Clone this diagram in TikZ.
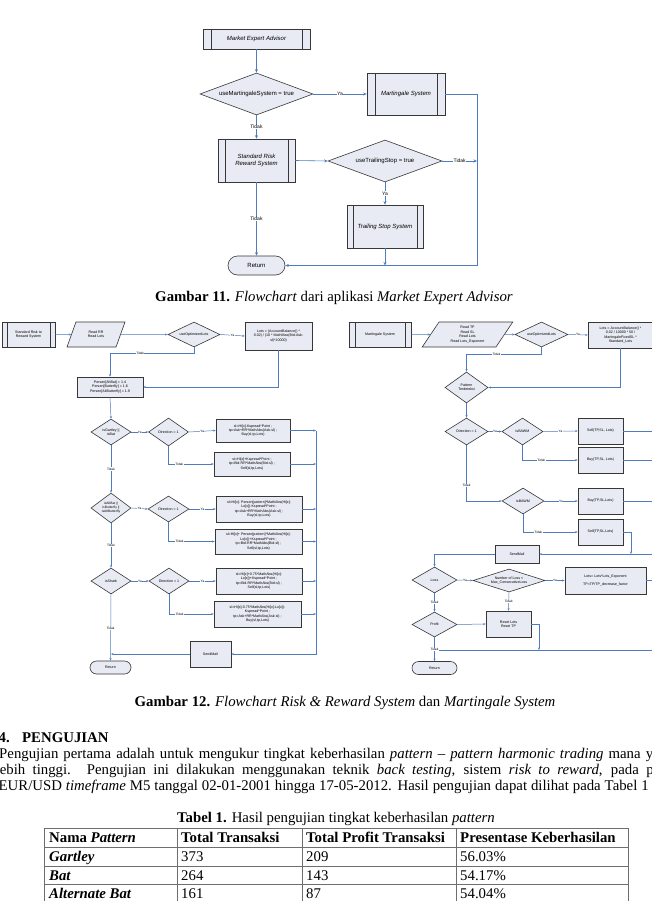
\documentclass[tikz,border=0pt]{standalone}
\usepackage{fontspec}
\setmainfont{Liberation Serif}
\newfontfamily\arialf{Liberation Sans}
\usetikzlibrary{shapes.geometric,shapes.misc,arrows.meta,calc}
\definecolor{lnblue}{RGB}{79,124,190}
\definecolor{bfill}{RGB}{232,235,243}
\definecolor{bdraw}{RGB}{55,55,55}
\definecolor{tblgray}{RGB}{110,110,110}
\newcommand{\bodyfont}{\fontsize{14.8}{17}\selectfont}
\begin{document}
\begin{tikzpicture}[x=1pt,y=-1pt,
  fA/.style={font=\arialf\fontsize{6}{7.2}\selectfont},
  fAi/.style={font=\arialf\itshape\fontsize{6}{7.2}\selectfont},
  fB/.style={font=\arialf\fontsize{3.6}{4.4}\selectfont},
  proc/.style={rectangle,draw=bdraw,fill=bfill,line width=0.6pt,inner sep=0pt,align=center},
  predef/.style={proc,path picture={\draw[draw=bdraw,line width=0.6pt]
     ([xshift=#1]path picture bounding box.north west) -- ([xshift=#1]path picture bounding box.south west)
     ([xshift=-#1]path picture bounding box.north east) -- ([xshift=-#1]path picture bounding box.south east);}},
  predef/.default=7pt,
  dia/.style={shape=diamond,draw=bdraw,fill=bfill,line width=0.6pt,inner sep=0pt,align=center},
  term/.style={shape=rounded rectangle,draw=bdraw,fill=bfill,line width=0.6pt,inner sep=0pt},
  para/.style={shape=trapezium,trapezium stretches=true,draw=bdraw,fill=bfill,line width=0.6pt,inner sep=0pt,align=center},
  conn/.style={draw=lnblue,line width=0.6pt},
  arr/.style={conn,-{Stealth[length=3.5pt,width=3pt]}},
  conns/.style={draw=lnblue,line width=0.5pt},
  arrs/.style={conns,-{Stealth[length=2.5pt,width=2pt]}},
  lbl/.style={fill=white,inner sep=0.6pt,font=\arialf\fontsize{5}{6}\selectfont},
  lbls/.style={fill=white,inner sep=0.4pt,font=\arialf\fontsize{3.2}{4}\selectfont},
  tbl/.style={draw=tblgray,line width=0.8pt},
  txt/.style={font=\bodyfont,inner sep=0}
]
\useasboundingbox (0,0) rectangle (652,901);
\clip (0,0) rectangle (652,901);
\fill[white] (0,0) rectangle (652,901);

% ================= Figure 11 =================
\node[predef=8pt,fAi,minimum width=107,minimum height=20] (mea) at (256.5,39) {Market Expert Advisor};
\node[dia,fA,minimum width=113,minimum height=42,aspect=2.7] (dMart) at (256.5,94) {useMartingaleSystem = true};
\node[predef=8pt,fAi,minimum width=78,minimum height=42] (mart) at (406,94) {Martingale System};
\node[predef=7pt,fAi,minimum width=77,minimum height=43] (std) at (256.5,160.5) {Standard Risk\\Reward System};
\node[dia,fA,minimum width=114,minimum height=42,aspect=2.7] (dTrail) at (385,161) {useTrailingStop = true};
\node[predef=6pt,fAi,minimum width=76,minimum height=43] (trail) at (385,226.5) {Trailing Stop System};
\node[term,fA,minimum width=57,minimum height=19] (ret1) at (256.5,265.5) {Return};
\coordinate (j1) at (477,161);
\coordinate (j2) at (385,265.5);

\draw[arr] (mea.south) -- (dMart.north);
\draw[arr] (dMart.east) -- node[lbl]{Ya} (mart.west);
\draw[arr] (mart.east) -- ++(32,0) |- (ret1.east);
\draw[arr] (dMart.south) -- node[lbl]{Tidak} (std.north);
\draw[arr] (std.east) -- (dTrail.west);
\draw[arr] (dTrail.east) -- node[lbl]{Tidak} (j1);
\draw[arr] (dTrail.south) -- node[lbl]{Ya} (trail.north);
\draw[arr] (trail.south) -- (j2);
\draw[arr] (std.south) -- node[lbl]{Tidak} (ret1.north);

\node[txt,anchor=base] (cap11) at (334,301)
  {\textbf{Gambar 11.} \textit{Flowchart} dari aplikasi \textit{Market Expert Advisor}};

% ================= Figure 12 left =================
\node[predef=5pt,fB,minimum width=53,minimum height=25] (srr) at (28.5,334.5) {Standard Risk to\\Reward System};
\node[para,fB,minimum width=58,minimum height=25,trapezium left angle=62.5,trapezium right angle=117.5] (rr) at (96,334.5) {Read RR\\Read Lots};
\node[dia,fB,minimum width=52,minimum height=25,aspect=2.08] (dOpt) at (194,334.5) {useOptimizedLots};
\node[proc,fB,minimum width=67,minimum height=28] (lotsL) at (278.5,336) {Lots = (AccountBalance() *\\0.02) / (10 * MathMax(Bid-Ask-\\sl)*10000)};
\node[proc,fB,minimum width=66,minimum height=20] (persen) at (110,387) {Persen[AltBat] = 1.4\\Persen[Butterfly] = 1.6\\Persen[AltButterfly] = 1.9};

\node[dia,fB,minimum width=40,minimum height=26,aspect=1.54] (d1) at (111,432) {isGartley ||\\isBat};
\node[dia,fB,minimum width=40,minimum height=28,aspect=1.43] (dir1) at (168.5,432) {Direction = 1};
\node[proc,fB,minimum width=74,minimum height=23] (b1) at (253,430.5) {sl=Hi[x]-Kspread*Point ;\\tp=Ask+RR*MathAbs(Ask-sl) ;\\Buy(sl,tp,Lots)};
\node[proc,fB,minimum width=76,minimum height=24] (b2) at (252,464) {sl=Hi[x]+Kspread*Point ;\\tp=Bid-RR*MathAbs(Bid-sl) ;\\Sell(sl,tp,Lots)};

\node[dia,fB,minimum width=40,minimum height=30,aspect=1.33,font=\arialf\fontsize{3.3}{4}\selectfont] (d2) at (111,508) {isAltBat ||\\isButterfly ||\\isAltButterfly};
\node[dia,fB,minimum width=41,minimum height=26,aspect=1.58] (dir2) at (168.5,509) {Direction = 1};
\node[proc,fB,minimum width=86,minimum height=26] (b3) at (259,509) {sl=Hi[x]- Persen[pattern]*MathAbs(Hi[x]-\\Lo[x])-Kspread*Point ;\\tp=Ask+RR*MathAbs(Ask-sl) ;\\Buy(sl,tp,Lots)};
\node[proc,fB,minimum width=87,minimum height=25] (b4) at (258.5,541.5) {sl=Hi[x]+ Persen[pattern]*MathAbs(Hi[x]-\\Lo[x])+Kspread*Point ;\\tp=Bid-RR*MathAbs(Bid-sl) ;\\Sell(sl,tp,Lots)};

\node[dia,fB,minimum width=40,minimum height=26,aspect=1.54] (d3) at (111,581) {isShark};
\node[dia,fB,minimum width=40,minimum height=26,aspect=1.54] (dir3) at (169,581) {Direction = 1};
\node[proc,fB,minimum width=86,minimum height=26] (b5) at (259,581) {sl=Hi[x]+0.75*MathAbs(Hi[x]-\\Lo[x])+Kspread*Point ;\\tp=Bid-RR*MathAbs(Bid-sl) ;\\Sell(sl,tp,Lots)};
\node[proc,fB,minimum width=87,minimum height=26] (b6) at (257.5,614) {sl=Hi[x]-0.75*MathAbs(Hi[x]-Lo[x])-\\Kspread*Point ;\\tp=Ask+RR*MathAbs(Ask-sl) ;\\Buy(sl,tp,Lots)};

\node[proc,fB,minimum width=41,minimum height=26] (sendL) at (210.5,654) {SendMail};
\node[term,fB,minimum width=41,minimum height=13] (retL) at (110.5,667.5) {Return};

\coordinate (rl1) at (316,430.5);
\coordinate (rl2) at (316,464);
\coordinate (rl3) at (316,509);
\coordinate (rl4) at (316,541.5);
\coordinate (rl5) at (316,581);
\coordinate (rl6) at (316,614);
\coordinate (rlb) at (316,654);
\coordinate (ml) at (111,654);

\draw[arrs] (srr.east) -- ($(rr.bottom left corner)!0.5!(rr.top left corner)$);
\draw[arrs] ($(rr.bottom right corner)!0.5!(rr.top right corner)$) -- (dOpt.west);
\draw[arrs] (dOpt.east) -- node[lbls]{Ya} (lotsL.west);
\draw[arrs] (dOpt.south) -- ++(0,6) -| node[lbls,pos=0.32]{Tidak} (persen.north);
\draw[arrs] (lotsL.south) |- (persen.east);
\draw[arrs] (persen.south) -- (d1.north);
\draw[arrs] (d1.east) -- node[lbls]{Ya} (dir1.west);
\draw[arrs] (dir1.east) -- node[lbls]{Ya} (b1.west);
\draw[arrs] (dir1.south) |- node[lbls,pos=0.62]{Tidak} (b2.west);
\draw[arrs] (d1.south) -- node[lbls]{Tidak} (d2.north);
\draw[arrs] (d2.east) -- node[lbls]{Ya} (dir2.west);
\draw[arrs] (dir2.east) -- node[lbls]{Ya} (b3.west);
\draw[arrs] (dir2.south) |- node[lbls,pos=0.62]{Tidak} (b4.west);
\draw[arrs] (d2.south) -- node[lbls]{Tidak} (d3.north);
\draw[arrs] (d3.east) -- node[lbls]{Ya} (dir3.west);
\draw[arrs] (dir3.east) -- node[lbls]{Ya} (b5.west);
\draw[arrs] (dir3.south) |- node[lbls,pos=0.62]{Tidak} (b6.west);
\draw[arrs] (d3.south) -- node[lbls,pos=0.52]{Tidak} (retL.north);
\draw[arrs] (b1.east) -- (rl1);
\draw[arrs] (b2.east) -- (rl2);
\draw[arrs] (b3.east) -- (rl3);
\draw[arrs] (b4.east) -- (rl4);
\draw[arrs] (b5.east) -- (rl5);
\draw[arrs] (b6.east) -- (rl6);
\draw[arrs] (rl1) -- (rlb) -- (sendL.east);
\draw[arrs] (sendL.west) -- (ml);

% ================= Figure 12 right =================
\node[predef=6pt,fB,minimum width=62,minimum height=25] (mSys) at (380,334.5) {Martingale System};
\node[para,fB,minimum width=91,minimum height=25,trapezium left angle=59,trapezium right angle=121] (rTP) at (467.5,334.5) {Read TP\\Read SL\\Read Lots\\Read Lots\_Exponent};
\node[dia,fB,minimum width=53,minimum height=25,aspect=2.12] (dOpt2) at (541.5,334.5) {useOptimizedLots};
\node[proc,fB,minimum width=65,minimum height=26] (lotsR) at (620.5,335) {Lots = AccountBalance() *\\0.02 / 10000 * 50 /\\MartingaleFixedSL *\\Standard\_Lots};
\node[dia,fB,minimum width=43,minimum height=31,aspect=1.39] (pat) at (466.5,387.5) {Pattern\\Terdeteksi};
\node[dia,fB,minimum width=43,minimum height=27,aspect=1.59] (dirR) at (466.5,431.5) {Direction = 1};
\node[dia,fB,minimum width=41,minimum height=27,aspect=1.52] (isB1) at (522.5,431.5) {isBAWM};
\node[proc,fB,minimum width=45,minimum height=26] (sell1) at (600.5,431) {Sell(TP,SL, Lots)};
\node[proc,fB,minimum width=45,minimum height=26] (buy1) at (600.5,460) {Buy(TP,SL, Lots)};
\node[dia,fB,minimum width=42,minimum height=26,aspect=1.62] (isB2) at (523,501) {isBAWM};
\node[proc,fB,minimum width=45,minimum height=26] (buy2) at (600.5,501) {Buy(TP,SL,Lots)};
\node[proc,fB,minimum width=45,minimum height=26] (sell2) at (600.5,532) {Sell(TP,SL,Lots)};
\node[proc,fB,minimum width=44,minimum height=18] (sendR) at (517,554) {SendMail};
\node[dia,fB,minimum width=45,minimum height=26,aspect=1.73] (loss) at (434.5,580) {Loss};
\node[dia,fB,minimum width=72,minimum height=23,aspect=3.13] (nLoss) at (509,580.5) {Number of Loss <\\Max\_ConsecutiveLoss};
\node[proc,fB,minimum width=81,minimum height=27,font=\arialf\fontsize{3.6}{8}\selectfont] (lotsE) at (605.5,580.5) {Lots= Lots*Lots\_Exponent\\TP=TP/TP\_decrease\_factor};
\node[proc,fB,minimum width=45,minimum height=26] (reset) at (508.5,624) {Reset Lots\\Reset TP};
\node[dia,fB,minimum width=45,minimum height=25,aspect=1.8] (profit) at (434.5,624.5) {Profit};
\node[term,fB,minimum width=45,minimum height=13] (retR) at (434.5,668) {Return};

\coordinate (e1) at (656,431);
\coordinate (e2) at (656,460);
\coordinate (e3) at (656,501);
\coordinate (e4) at (631,554);
\coordinate (e5) at (656,554);
\coordinate (e6) at (656,580.5);
\coordinate (e7) at (539,650);
\coordinate (e8) at (656,650);
\coordinate (e9) at (434.5,650);

\draw[arrs] (mSys.east) -- ($(rTP.bottom left corner)!0.5!(rTP.top left corner)$);
\draw[arrs] ($(rTP.bottom right corner)!0.5!(rTP.top right corner)$) -- (dOpt2.west);
\draw[arrs] (dOpt2.east) -- node[lbls]{Ya} (lotsR.west);
\draw[arrs] (dOpt2.south) -- ++(0,7) -| node[lbls,pos=0.3]{Tidak} (pat.north);
\draw[arrs] (lotsR.south) |- (pat.east);
\draw[arrs] (pat.south) -- (dirR.north);
\draw[arrs] (dirR.east) -- node[lbls]{Ya} (isB1.west);
\draw[arrs] (isB1.east) -- node[lbls]{Ya} (sell1.west);
\draw[arrs] (isB1.south) |- node[lbls,pos=0.67]{Tidak} (buy1.west);
\draw[arrs] (dirR.south) |- node[lbls,pos=0.36]{Tidak} (isB2.west);
\draw[arrs] (isB2.east) -- node[lbls]{Ya} (buy2.west);
\draw[arrs] (isB2.south) |- node[lbls,pos=0.64]{Tidak} (sell2.west);
\draw[conns] (sell1.east) -- (e1);
\draw[conns] (buy1.east) -- (e2);
\draw[conns] (buy2.east) -- (e3);
\draw[arrs] (sell2.east) -| (e4);
\draw[arrs] (e5) -- (sendR.east);
\draw[arrs] (sendR.west) -| (loss.north);
\draw[arrs] (loss.east) -- node[lbls]{Ya} (nLoss.west);
\draw[arrs] (nLoss.east) -- node[lbls]{Ya} (lotsE.west);
\draw[conns] (lotsE.east) -- (e6);
\draw[arrs] (nLoss.south) -- node[lbls]{Tidak} (reset.north);
\draw[arrs] (loss.south) -- node[lbls]{Tidak} (profit.north);
\draw[arrs] (profit.east) -- (reset.west);
\draw[arrs] (reset.east) -| (e7);
\draw[arrs] (e8) -- (e9);
\draw[arrs] (profit.south) -- node[lbls]{Tidak} (retR.north);

% ================= Text =================
\node[txt,anchor=base] (cap12) at (345,706)
  {\textbf{Gambar 12.} \textit{Flowchart Risk \& Reward System} dan \textit{Martingale System}};
\node[txt,anchor=base west,font=\bfseries\bodyfont] (h4) at (-1.5,742) {4.};
\node[txt,anchor=base west,font=\bfseries\bodyfont] (hP) at (22,742) {PENGUJIAN};
\node[txt,anchor=base west] (l1) at (-1,758)
  {\makebox[654pt][s]{Pengujian pertama adalah untuk mengukur tingkat keberhasilan \textit{pattern} – \textit{pattern harmonic trading} mana y}};
\node[txt,anchor=base west] (l2) at (-4.5,774)
  {\makebox[658pt][s]{lebih tinggi. Pengujian ini dilakukan menggunakan teknik \textit{back testing}, sistem \textit{risk to reward}, pada p}};
\node[txt,anchor=base west] (l3) at (-1.5,790)
  {\makebox[650pt][s]{EUR/USD \textit{timeframe} M5 tanggal 02-01-2001 hingga 17-05-2012. Hasil pengujian dapat dilihat pada Tabel 1}};
\node[txt,anchor=base] (cap13) at (336,822)
  {\textbf{Tabel 1.} Hasil pengujian tingkat keberhasilan \textit{pattern}};

% table
\draw[tbl] (44,828) rectangle (628,906);
\draw[tbl] (44,847) -- (628,847) (44,866) -- (628,866) (44,884) -- (628,884);
\draw[tbl] (177,828) -- (177,906) (302,828) -- (302,906) (456,828) -- (456,906);
\tikzset{tc/.style={txt,anchor=base west}}
\node[tc] (t11) at (49,842) {\textbf{Nama \textit{Pattern}}};
\node[tc] (t12) at (181,842) {\textbf{Total Transaksi}};
\node[tc] (t13) at (306,842) {\textbf{Total Profit Transaksi}};
\node[tc] (t14) at (460,842) {\textbf{Presentase Keberhasilan}};
\node[tc] (t21) at (49,861) {\textbf{\textit{Gartley}}};
\node[tc] (t22) at (181,861) {373};
\node[tc] (t23) at (306,861) {209};
\node[tc] (t24) at (460,861) {56.03\%};
\node[tc] (t31) at (49,880) {\textbf{\textit{Bat}}};
\node[tc] (t32) at (181,880) {264};
\node[tc] (t33) at (306,880) {143};
\node[tc] (t34) at (460,880) {54.17\%};
\node[tc] (t41) at (49,898) {\textbf{\textit{Alternate Bat}}};
\node[tc] (t42) at (181,898) {161};
\node[tc] (t43) at (306,898) {87};
\node[tc] (t44) at (460,898) {54.04\%};
\end{tikzpicture}
\end{document}
